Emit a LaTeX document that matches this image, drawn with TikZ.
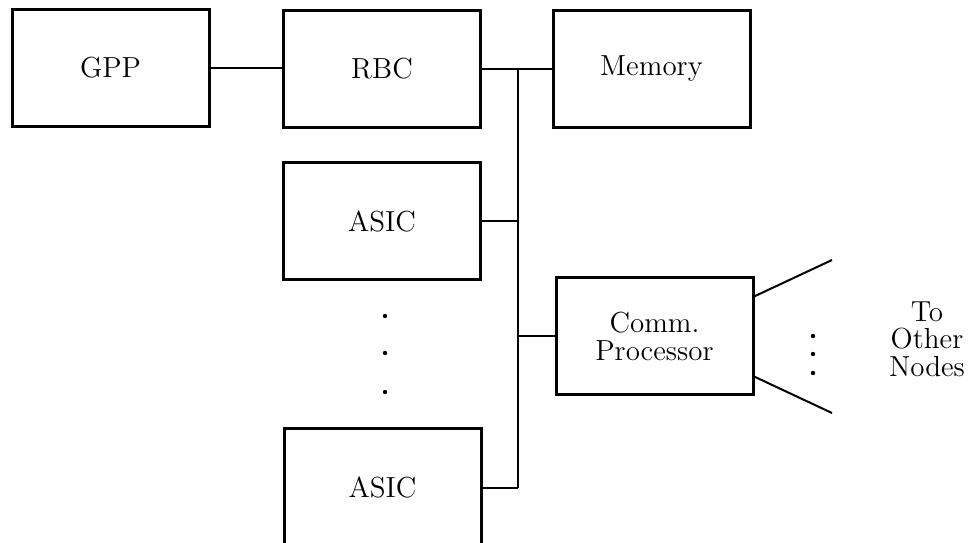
\documentclass[tikz,border=0pt]{standalone}
\begin{document}
\begin{tikzpicture}[x=0.5pt,y=-0.5pt,
  box/.style={draw, line width=1.5pt, rectangle, inner sep=0pt, minimum width=98.5pt, minimum height=58.5pt, font=\fontsize{14.5}{14}\selectfont, align=center},
  wire/.style={line width=1pt},
  txt/.style={font=\fontsize{14.5}{13.8}\selectfont, align=center, inner sep=0pt},
  dotmark/.style={circle, fill=black, inner sep=0pt, minimum size=2.2pt}]
\useasboundingbox (0,0) rectangle (970,542);
\node[box] (gpp) at (110.5,67.5) {GPP};
\node[box] (rbc) at (382,68.5) {RBC};
\node[box] (mem) at (651.5,68.5) {Memory};
\node[box] (asic1) at (382,221) {ASIC};
\node[box] (comm) at (654.5,336) {Comm.\\Processor};
\node[box] (asic2) at (382.5,487) {ASIC};
\node[txt] (other) at (927,339) {To\\Other\\Nodes};
\coordinate (bustop) at (518,69);
\coordinate (busbot) at (518,488);
\coordinate (up) at (832,260);
\coordinate (lo) at (832,413);
\coordinate (upst) at (753,297);
\coordinate (lost) at (753,376);
\node[dotmark] (d1) at (385,316) {};
\node[dotmark] (d2) at (385,353) {};
\node[dotmark] (d3) at (385,392) {};
\node[dotmark] (e1) at (813,336) {};
\node[dotmark] (e2) at (813,354) {};
\node[dotmark] (e3) at (813,373) {};
\draw[wire] (gpp.east) -- (gpp.east -| rbc.west);
\draw[wire] (rbc.east |- bustop) -- (bustop -| mem.west);
\draw[wire] (bustop) -- (busbot);
\draw[wire] (asic1.east) -- (asic1.east -| bustop);
\draw[wire] (bustop |- comm.west) -- (comm.west);
\draw[wire] (asic2.east |- busbot) -- (busbot);
\draw[wire] (upst) -- (up);
\draw[wire] (lost) -- (lo);
\end{tikzpicture}
\end{document}
